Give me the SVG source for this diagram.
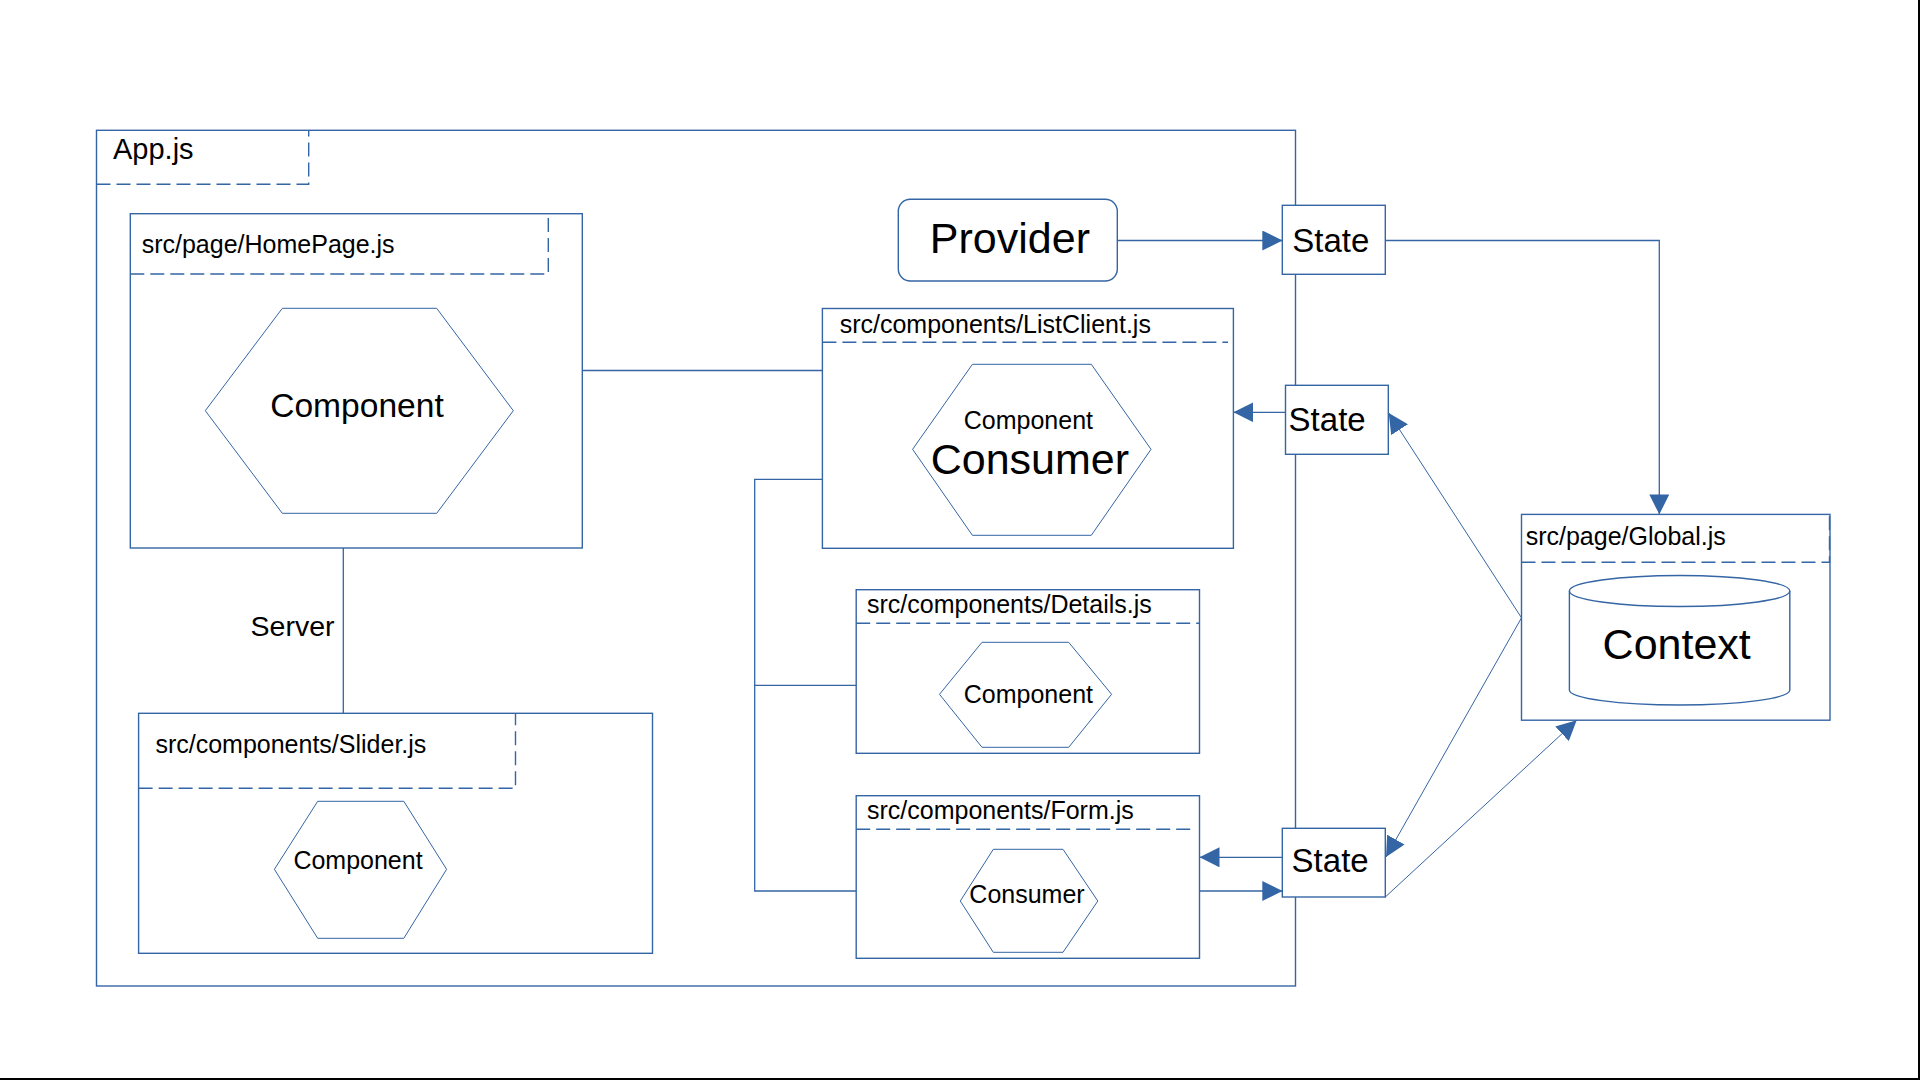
<svg xmlns="http://www.w3.org/2000/svg" width="1920" height="1080" viewBox="0 0 1920 1080">
<defs>
<style>
.box{fill:#ffffff;stroke:#3465a4;stroke-width:1.4}
.frame{fill:none;stroke:#3465a4;stroke-width:1.4}
.dash{fill:none;stroke:#3465a4;stroke-width:1.4;stroke-dasharray:14 6}
.hex{fill:#ffffff;stroke:#3465a4;stroke-width:1}
.conn{fill:none;stroke:#3465a4;stroke-width:1.3}
.thin{fill:none;stroke:#3465a4;stroke-width:1}
text{font-family:"Liberation Sans",Arial,sans-serif;fill:#000000}
.lbl{font-size:25px}
.mid{text-anchor:middle}
</style>
<marker id="arr" markerUnits="userSpaceOnUse" markerWidth="20" markerHeight="20" refX="20" refY="10" orient="auto" viewBox="0 0 20 20">
<path d="M0,0 L20,10 L0,20 z" fill="#3465a4"/>
</marker>
</defs>
<rect x="0" y="0" width="1920" height="1080" fill="#ffffff"/>
<path d="M1919,0 V1079 H0" fill="none" stroke="#000000" stroke-width="2"/>

<g id="app">
<rect class="frame" x="96.5" y="130.3" width="1199" height="855.7"/>
<path class="dash" d="M96.5,184.3 H308.7 V130.3"/>
<text x="113" y="159.3" font-size="29">App.js</text>
</g>

<g id="connectors">
<path class="conn" d="M582.3,370.5 H822.4"/>
<path class="conn" d="M343.3,548 V713.3"/>
<path class="conn" d="M822.4,479.3 H754.7 V891 H856.2"/>
<path class="conn" d="M754.7,685.3 H856.2"/>
<path class="conn" d="M1117.3,240.5 H1282.3" marker-end="url(#arr)"/>
<path class="conn" d="M1385.3,240.5 H1659.3 V514.4" marker-end="url(#arr)"/>
<path class="conn" d="M1285.5,412.3 H1233.4" marker-end="url(#arr)"/>
<path class="thin" d="M1521.5,617.8 L1388.7,412.9" marker-end="url(#arr)"/>
<path class="thin" d="M1521.5,617.8 L1386,857" marker-end="url(#arr)"/>
<path class="conn" d="M1282.3,857.3 H1199.5" marker-end="url(#arr)"/>
<path class="conn" d="M1199.5,891 H1282.3" marker-end="url(#arr)"/>
<path class="thin" d="M1385.3,897 L1576.7,720.2" marker-end="url(#arr)"/>
<text x="334.5" y="636" font-size="28.5" text-anchor="end">Server</text>
</g>

<g id="homepage">
<rect class="box" x="130.3" y="213.7" width="452" height="334.3"/>
<path class="dash" d="M130.3,274 H548.3 V213.7"/>
<text class="lbl" x="141.7" y="253.3">src/page/HomePage.js</text>
<polygon class="hex" points="205.3,410.7 282.3,308.3 436.7,308.3 513.3,410.7 436.7,513.3 282.3,513.3"/>
<text class="mid" x="357" y="417.3" font-size="33.6">Component</text>
</g>

<g id="slider">
<rect class="box" x="138.6" y="713.3" width="513.9" height="240"/>
<path class="dash" d="M138.6,788.3 H515.5 V713.3"/>
<text class="lbl" x="155.4" y="752.7">src/components/Slider.js</text>
<polygon class="hex" points="274.4,869.3 317.7,801.3 403.8,801.3 446.6,869.3 403.8,938.3 317.7,938.3"/>
<text class="mid" x="358" y="869.3" font-size="25">Component</text>
</g>

<g id="provider">
<rect class="box" x="898.3" y="199.3" width="219" height="81.7" rx="12" ry="12"/>
<text class="mid" x="1009.9" y="252.7" font-size="43">Provider</text>
</g>

<g id="listclient">
<rect class="box" x="822.4" y="308.5" width="411" height="239.8"/>
<path class="dash" d="M822.4,342.2 H1228"/>
<text class="lbl" x="839.7" y="332.7">src/components/ListClient.js</text>
<polygon class="hex" points="912.6,449.3 972.4,364.3 1091.3,364.3 1151,449.3 1091.3,535.3 972.4,535.3"/>
<text class="mid" x="1028.4" y="429.3" font-size="25">Component</text>
<text class="mid" x="1029.9" y="474" font-size="43">Consumer</text>
</g>

<g id="details">
<rect class="box" x="856.2" y="589.7" width="343.3" height="163.6"/>
<path class="dash" d="M856.2,623.3 H1199"/>
<text class="lbl" x="867" y="612.7">src/components/Details.js</text>
<polygon class="hex" points="939.5,694.3 982,642.3 1068.7,642.3 1111.6,694.3 1068.7,747.3 982,747.3"/>
<text class="mid" x="1028.4" y="702.7" font-size="25">Component</text>
</g>

<g id="form">
<rect class="box" x="856.2" y="795.7" width="343.3" height="162.6"/>
<path class="dash" d="M856.2,829.3 H1193"/>
<text class="lbl" x="867" y="819.3">src/components/Form.js</text>
<polygon class="hex" points="960.3,901 993.3,849.3 1063,849.3 1097.8,901 1063,952.3 993.3,952.3"/>
<text class="mid" x="1027" y="903.3" font-size="25">Consumer</text>
</g>

<g id="state1">
<rect class="box" x="1282.3" y="205.3" width="103" height="69"/>
<text x="1292.3" y="251.7" font-size="33">State</text>
</g>

<g id="state2">
<rect class="box" x="1285.5" y="385.3" width="102.8" height="69"/>
<text x="1288.6" y="430.7" font-size="33">State</text>
</g>

<g id="state3">
<rect class="box" x="1282.3" y="828.3" width="103" height="68.7"/>
<text x="1291.6" y="871.7" font-size="33">State</text>
</g>

<g id="global">
<rect class="box" x="1521.5" y="514.4" width="308.5" height="205.8"/>
<path class="dash" d="M1521.5,562.3 H1829.5 V514.4"/>
<text class="lbl" x="1525.7" y="545.3">src/page/Global.js</text>
<path class="box" d="M1569.4,591 V690 A110.2,15 0 0 0 1789.8,690 V591 A110.2,15.5 0 0 0 1569.4,591 Z"/>
<path class="frame" d="M1569.4,591 A110.2,15.5 0 0 0 1789.8,591"/>
<text class="mid" x="1676.7" y="659" font-size="43">Context</text>
</g>
</svg>
